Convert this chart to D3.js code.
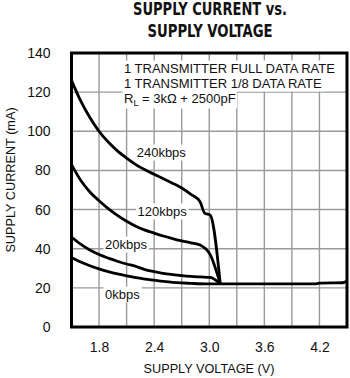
<!DOCTYPE html>
<html>
<head>
<meta charset="utf-8">
<script src="https://cdn.jsdelivr.net/npm/d3@7"></script>
<style>
  html, body { margin: 0; padding: 0; background: #fff; }
  svg { display: block; }
  text { font-family: "Liberation Sans", Arial, sans-serif; fill: #111; }
  .title { font-family: "Liberation Sans Narrow", "DejaVu Sans Condensed", sans-serif; font-weight: bold; font-size: 17px; }
</style>
</head>
<body>
<svg id="chart" width="350" height="378"></svg>
<script>
// Supply voltage (V) sample points and supply current (mA) for each data rate
const volt240 = [1.5, 1.6, 1.7, 1.8, 1.9, 2.0, 2.1, 2.2, 2.3, 2.4, 2.5, 2.6, 2.7, 2.8, 2.9, 2.95, 3.01, 3.12];
const curr240 = [126, 115.5, 107, 100, 94.5, 90, 86.3, 83, 80.3, 78, 75.8, 73.5, 71, 67.8, 64, 58.2, 57.2, 22];

const volt120 = [1.5, 1.6, 1.7, 1.8, 1.9, 2.0, 2.1, 2.2, 2.3, 2.4, 2.5, 2.6, 2.7, 2.8, 2.9, 3.01, 3.12];
const curr120 = [83, 75, 69, 64.5, 60.5, 57, 54, 51.5, 49.5, 48, 46.5, 45.2, 44, 43, 41.9, 37, 22];

const volt20 = [1.5, 1.6, 1.7, 1.8, 1.9, 2.0, 2.1, 2.2, 2.3, 2.4, 2.5, 2.6, 2.7, 2.8, 2.9, 3.01, 3.12];
const curr20 = [46, 42.3, 39.3, 37, 35.2, 33.6, 32.2, 31, 29.3, 28.3, 27.4, 26.8, 26.3, 25.9, 25.6, 25.3, 22];

const volt0 = [1.5, 1.6, 1.7, 1.8, 1.9, 2.0, 2.1, 2.2, 2.3, 2.4, 2.5, 2.6, 2.7, 2.8, 2.9, 3.0, 3.12, 3.6, 4.15, 4.2, 4.45, 4.5];
const curr0 = [35.5, 33.2, 31.3, 29.7, 28.3, 27.1, 26.1, 25.2, 24.5, 23.9, 23.3, 22.8, 22.5, 22.3, 22.1, 22, 22, 22, 22, 22.4, 22.6, 23.5];

// Curve labels: text, voltage and current where each label sits
const curveLabels = ["240kbps", "120kbps", "20kbps", "0kbps"];
const labelVolt = [2.21, 2.22, 1.865, 1.865];
const labelCurr = [89.4, 59.3, 42.4, 16.9];

// Axis ticks
const xTicks = [1.8, 2.4, 3.0, 3.6, 4.2];
const xGrid = [1.8, 2.1, 2.4, 2.7, 3.0, 3.3, 3.6, 3.9, 4.2];
const yTicks = [0, 20, 40, 60, 80, 100, 120, 140];
const yGrid = [20, 40, 60, 80, 100, 120];

const titleLines = ["SUPPLY CURRENT vs.", "SUPPLY VOLTAGE"];
const titleWidths = [154, 125];
const xTitle = "SUPPLY VOLTAGE (V)";
const yTitle = "SUPPLY CURRENT (mA)";

const svg = d3.select("#chart");
const x = d3.scaleLinear().domain([1.5, 4.5]).range([71.5, 347]);
const y = d3.scaleLinear().domain([0, 140]).range([327, 53]);

// Title (condensed bold)
svg.selectAll("text.title").data(titleLines).join("text")
  .attr("class", "title")
  .attr("x", 210).attr("y", (d, i) => 15 + i * 22)
  .attr("text-anchor", "middle")
  .attr("textLength", (d, i) => titleWidths[i])
  .attr("lengthAdjust", "spacingAndGlyphs")
  .text(d => d);

// Grid
const grid = svg.append("g").attr("stroke", "#9a9a9a").attr("stroke-width", 1.4);
grid.selectAll("line.vx").data(xGrid).join("line")
  .attr("x1", d => x(d)).attr("x2", d => x(d))
  .attr("y1", y(140)).attr("y2", y(0));
grid.selectAll("line.hy").data(yGrid).join("line")
  .attr("x1", x(1.5)).attr("x2", x(4.5))
  .attr("y1", d => y(d)).attr("y2", d => y(d));

// Axes
const yAxis = svg.append("g").attr("transform", `translate(${x(1.5)},0)`)
  .call(d3.axisLeft(y).tickValues(yTicks).tickSize(0).tickPadding(21).tickFormat(d3.format("d")));
const xAxis = svg.append("g").attr("transform", `translate(0,${y(0)})`)
  .call(d3.axisBottom(x).tickValues(xTicks).tickSize(0).tickPadding(15).tickFormat(d3.format(".1f")));
[yAxis, xAxis].forEach(a => {
  a.select(".domain").remove();
  a.selectAll("text").attr("font-size", 14).attr("font-family", null).attr("fill", "#111");
});

svg.append("text").attr("x", 209).attr("y", 373).attr("text-anchor", "middle")
  .attr("font-size", 12.7).text(xTitle);
svg.append("text").attr("transform", "translate(15,180) rotate(-90)")
  .attr("text-anchor", "middle").attr("font-size", 12.7).text(yTitle);

// Helper: text on a white patch that hides the grid behind it
function haloText(g, tx, ty, size, build) {
  const t = g.append("text").attr("x", tx).attr("y", ty).attr("font-size", size);
  build(t);
  const b = t.node().getBBox();
  g.insert("rect", () => t.node())
    .attr("x", b.x - 1.5).attr("y", b.y - 0.5)
    .attr("width", b.width + 3).attr("height", b.height + 1)
    .attr("fill", "#fff");
  return t;
}

// Conditions note
const note = svg.append("g");
haloText(note, 124, 73, 13, t => t.text("1 TRANSMITTER FULL DATA RATE"));
haloText(note, 124, 88, 13, t => t.text("1 TRANSMITTER 1/8 DATA RATE"));
haloText(note, 124, 103, 13, t => {
  t.append("tspan").text("R");
  t.append("tspan").attr("font-size", 9).attr("dy", 3).text("L");
  t.append("tspan").attr("dy", -3).text(" = 3kΩ + 2500pF");
});

// Curves
const series = [
  [volt240, curr240], [volt120, curr120], [volt20, curr20], [volt0, curr0]
];
const line = d3.line().x(d => x(d[0])).y(d => y(d[1])).curve(d3.curveMonotoneX);
svg.append("g").selectAll("path").data(series).join("path")
  .attr("d", s => line(s[0].map((v, i) => [v, s[1][i]])))
  .attr("fill", "none").attr("stroke", "#000").attr("stroke-width", 2.8)
  .attr("stroke-linejoin", "round");

// Curve labels
const lab = svg.append("g");
curveLabels.forEach((t, i) => {
  haloText(lab, x(labelVolt[i]), y(labelCurr[i]) + 5, 13, el => el.text(t));
});

// Frame
svg.append("rect")
  .attr("x", x(1.5)).attr("y", y(140))
  .attr("width", x(4.5) - x(1.5)).attr("height", y(0) - y(140))
  .attr("fill", "none").attr("stroke", "#000").attr("stroke-width", 3);
</script>
</body>
</html>
